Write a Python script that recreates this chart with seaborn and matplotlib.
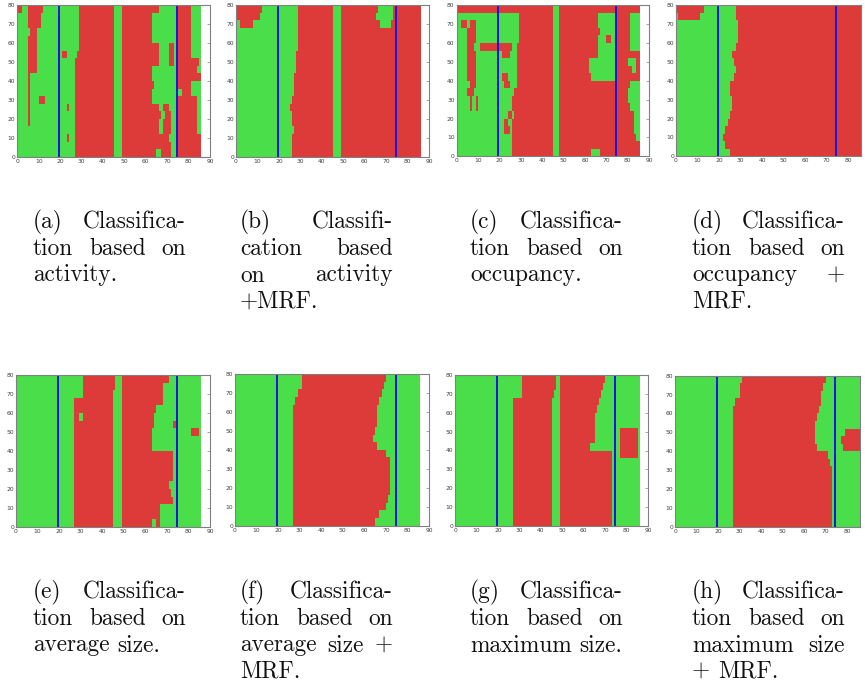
import numpy as np
import matplotlib
matplotlib.use("Agg")
import matplotlib.pyplot as plt
from matplotlib.colors import ListedColormap
import seaborn as sns

sns.set_theme(style="white")

# ---------------- data: class maps (G = green, R = red) -----------------
# each panel: 20 horizontal bands (top y=76-80 ... bottom y=0-4),
# every band lists the class and the x cell where that class starts.
map_a = [
    "R0 G2 R5 G12 R29 G45 R49 G66 R75 G81",
    "G0 R5 G11 R29 G45 R49 G63 R75 G81",
    "G0 R5 G11 R29 G45 R49 G63 R75 G81",
    "G0 R6 G9 R29 G45 R49 G63 R75 G81",
    "G0 R5 G9 R29 G45 R49 G63 R75 G81",
    "G0 R5 G9 R29 G45 R49 G66 R71 G73 R75 G81",
    "G0 R5 G9 R21 G23 R28 G45 R49 G66 R71 G73 R75 G81",
    "G0 R5 G9 R27 G45 R49 G66 R71 G73 R75 G85",
    "G0 R5 G9 R27 G45 R49 G63 R75 G84",
    "G0 R5 G6 R27 G45 R49 G63 R75",
    "G0 R5 G6 R27 G45 R49 G64 R75 G81",
    "G0 R5 G6 R27 G45 R49 G63 R77 G81",
    "G0 R5 G6 R10 G13 R27 G45 R49 G63 R75 G84",
    "G0 R5 G6 R23 G24 R27 G45 R49 G66 R68 G71 R75 G84",
    "G0 R5 G6 R27 G45 R49 G67 R69 G72 R75 G84",
    "G0 R5 G6 R27 G45 R49 G66 R68 G72 R75 G84",
    "G0 R27 G45 R49 G66 R68 G72 R75 G84",
    "G0 R23 G24 R27 G45 R49 G71 R75",
    "G0 R27 G45 R49 G72 R75",
    "G0 R27 G45 R49 G65 R67 G72 R75",
]
map_b = [
    "R0 G12 R29 G45 R49 G66 R73",
    "R0 G11 R29 G45 R49 G65 R73",
    "G0 R2 G8 R29 G45 R49 G67 R72",
    "G0 R29 G45 R49",
    "G0 R29 G45 R49",
    "G0 R29 G45 R49",
    "G0 R28 G45 R49",
    "G0 R28 G45 R49",
    "G0 R28 G45 R49",
    "G0 R27 G45 R49",
    "G0 R27 G45 R49",
    "G0 R27 G45 R49",
    "G0 R26 G45 R49",
    "G0 R25 G45 R49",
    "G0 R26 G45 R49",
    "G0 R26 G45 R49",
    "G0 R27 G45 R49",
    "G0 R26 G45 R49",
    "G0 R26 G45 R49",
    "G0 R26 G45 R49",
]
map_c = [
    "R0 G45 R48",
    "G0 R29 G45 R48 G66 R75 G81",
    "G0 R2 G5 R6 G9 R29 G45 R48 G66 R75 G81",
    "G0 R5 G9 R29 G45 R48 G67 R75 G81",
    "G0 R5 G9 R29 G45 R48 G66 R70 G72 R75 G81",
    "G0 R5 G8 R11 G26 R28 G45 R48 G66 R75 G81",
    "G0 R5 G9 R21 G25 R28 G45 R48 G66 R75",
    "G0 R5 G9 R28 G45 R48 G62 R75 G80 R84",
    "G0 R5 G9 R28 G45 R48 G62 R75 G82 R84",
    "G0 R5 G9 R21 G24 R28 G45 R48 G63 R75",
    "G0 R6 G9 R22 G25 R28 G45 R48 G81",
    "G0 R5 G8 R27 G45 R48 G80",
    "G0 R6 G7 R9 G10 R26 G45 R48 G80",
    "G0 R6 G7 R9 G10 R26 G45 R48 G81",
    "G0 R24 G26 R27 G45 R48 G83",
    "G0 R22 G24 R26 G45 R48 G83",
    "G0 R22 G25 R26 G45 R48 G83",
    "G0 R26 G45 R48 G84",
    "G0 R26 G45 R48",
    "G0 R26 G45 R48 G63 R67",
]
map_d = [
    "R0 G13 R28", "G0 R1 G11 R28", "G0 R29", "G0 R29", "G0 R29",
    "G0 R28", "G0 R26", "G0 R27", "G0 R28", "G0 R27",
    "G0 R25", "G0 R25", "G0 R26", "G0 R26", "G0 R25",
    "G0 R24", "G0 R23", "G0 R22", "G0 R23", "G0 R25",
]
map_e = [
    "G0 R31 G46 R49 G71",
    "G0 R31 G46 R49 G68",
    "G0 R31 G45 R49 G68",
    "G0 R27 G45 R49 G68",
    "G0 R27 G45 R49 G65",
    "G0 R27 G29 R31 G45 R49 G64",
    "G0 R27 G45 R49 G64 R73 G74",
    "G0 R27 G45 R49 G63 R81 G85",
    "G0 R27 G45 R49 G63",
    "G0 R27 G45 R49 G63",
    "G0 R27 G45 R49 G73",
    "G0 R27 G45 R49 G73",
    "G0 R27 G45 R49 G73",
    "G0 R27 G45 R49 G73",
    "G0 R27 G45 R49 G71",
    "G0 R27 G45 R49 G72",
    "G0 R27 G45 R49 G73",
    "G0 R27 G45 R49 G67",
    "G0 R27 G45 R49 G67",
    "G0 R27 G45 R49 G63 R65 G67",
]
map_f = [
    "G0 R31 G70", "G0 R31 G69", "G0 R29 G68", "G0 R28 G67", "G0 R27 G66",
    "G0 R27 G66", "G0 R27 G66", "G0 R27 G65", "G0 R27 G64", "G0 R27 G66",
    "G0 R27 G70", "G0 R27 G72", "G0 R27 G72", "G0 R27 G72", "G0 R27 G72",
    "G0 R27 G72", "G0 R27 G71", "G0 R27 G70", "G0 R27 G67", "G0 R27 G65",
]
map_g = [
    "G0 R31 G47 R49 G70",
    "G0 R31 G47 R49 G69",
    "G0 R31 G46 R49 G68",
    "G0 R27 G45 R49 G67",
    "G0 R27 G45 R49 G66",
    "G0 R27 G45 R49 G65",
    "G0 R27 G45 R49 G65",
    "G0 R27 G45 R49 G65 R77 G85",
    "G0 R27 G45 R49 G65 R77 G85",
    "G0 R27 G45 R49 G63 R77 G85",
    "G0 R27 G45 R49 G73 R77 G85",
    "G0 R27 G45 R49 G73", "G0 R27 G45 R49 G73", "G0 R27 G45 R49 G73",
    "G0 R27 G45 R49 G73", "G0 R27 G45 R49 G73", "G0 R27 G45 R49 G73",
    "G0 R27 G45 R49 G73", "G0 R27 G45 R49 G73", "G0 R27 G45 R49 G73",
]
map_h = [
    "G0 R31 G70", "G0 R30 G69", "G0 R30 G68", "G0 R28 G68", "G0 R27 G67",
    "G0 R27 G66", "G0 R27 G65", "G0 R27 G65 R79", "G0 R27 G65 R77", "G0 R27 G66 R78",
    "G0 R27 G71", "G0 R27 G72", "G0 R27 G73", "G0 R27 G73", "G0 R27 G73",
    "G0 R27 G73", "G0 R27 G73", "G0 R27 G73", "G0 R27 G73", "G0 R27 G73",
]
blue_cols = [19, 74]
n_cols = 86

captions = [
    ["(a) Classifica-", "tion based on", "activity."],
    ["(b) Classifi-", "cation based", "on activity", "+MRF."],
    ["(c) Classifica-", "tion based on", "occupancy."],
    ["(d) Classifica-", "tion based on", "occupancy +", "MRF."],
    ["(e) Classifica-", "tion based on", "average size."],
    ["(f) Classifica-", "tion based on", "average size +", "MRF."],
    ["(g) Classifica-", "tion based on", "maximum size."],
    ["(h) Classifica-", "tion based on", "maximum size", "+ MRF."],
]
maps = [map_a, map_b, map_c, map_d, map_e, map_f, map_g, map_h]
x_max = [90, 90, 90, 86, 90, 90, 90, 86]
y_ticks = list(range(0, 81, 10))

# ---------------- layout (pixels) -----------------
W, H = 865, 688
axes_px = [  # left, right, top, bottom
    (17.3, 210.0, 5.3, 156.7),
    (236.0, 429.3, 5.3, 156.7),
    (456.7, 649.0, 5.3, 156.3),
    (676.0, 861.0, 5.3, 156.3),
    (16.0, 210.0, 375.0, 527.0),
    (235.0, 429.0, 374.3, 525.5),
    (455.0, 648.3, 375.0, 526.0),
    (675.0, 860.0, 375.7, 526.7),
]
cap_cols = [(33, 186), (240, 393), (470, 623), (692, 845)] * 2
cap_base = [[228.5, 255.0, 281.5, 308.0]] * 4 + [[598.3, 625.0, 651.5, 678.0]] * 4

green, red, blue = "#4ade4a", "#dd3a3a", "#1818e0"
cmap = ListedColormap([green, red, blue])


def build(bands):
    M = np.zeros((80, n_cols), dtype=int)
    for k, s in enumerate(bands):
        toks = s.split()
        row = np.zeros(n_cols, dtype=int)
        for i, t in enumerate(toks):
            start = int(t[1:])
            end = int(toks[i + 1][1:]) if i + 1 < len(toks) else n_cols
            row[start:end] = 1 if t[0] == "R" else 0
        top = 80 - 4 * k
        M[top - 4:top, :] = row
    for b in blue_cols:
        M[:, b] = 2
    return M


fig = plt.figure(figsize=(W / 100, H / 100), dpi=100)
fig.patch.set_facecolor("white")

for i, bands in enumerate(maps):
    l, r, t, b = axes_px[i]
    ax = fig.add_axes([l / W, 1 - b / H, (r - l) / W, (b - t) / H])
    M = build(bands)
    sns.heatmap(M, ax=ax, cmap=cmap, vmin=0, vmax=2, cbar=False,
                linewidths=0, xticklabels=False, yticklabels=False)
    ax.set_facecolor("white")
    ax.set_xlim(0, x_max[i])
    ax.set_ylim(0, 80)
    xt = list(range(0, 91 if x_max[i] == 90 else 81, 10))
    ax.set_xticks(xt)
    ax.set_xticklabels([str(v) for v in xt])
    ax.set_yticks(y_ticks)
    ax.set_yticklabels([str(v) for v in y_ticks], rotation=0)
    for s in ax.spines.values():
        s.set_visible(True)
        s.set_color("#808080")
        s.set_linewidth(0.8)
    ax.tick_params(axis="both", which="both", direction="in", length=2.2,
                   width=0.5, color="#808080", labelsize=4.3,
                   labelcolor="#404040", pad=1.5, top=True, right=True,
                   bottom=True, left=True)

# ---------------- captions (justified, serif) -----------------
FS = 16.8
FAM = "cmr10"
renderer = fig.canvas.get_renderer()


def width_of(word):
    tt = fig.text(0, 0, word, fontsize=FS, family=FAM)
    w = tt.get_window_extent(renderer).width
    tt.remove()
    return w


space = 0.333 * FS * 100 / 72
for i, lines in enumerate(captions):
    L, R = cap_cols[i]
    for j, line in enumerate(lines):
        words = line.split()
        ws = [width_of(w) for w in words]
        last = j == len(lines) - 1
        if last or len(words) == 1:
            gap = space
        else:
            gap = (R - L - sum(ws)) / (len(words) - 1)
        x = L
        y = cap_base[i][j]
        for w, wd in zip(words, ws):
            fig.text(x / W, 1 - y / H, w, fontsize=FS, family=FAM,
                     va="baseline", ha="left", color="#111111")
            x += wd + gap

fig.savefig("out.png", dpi=100, facecolor="white")
